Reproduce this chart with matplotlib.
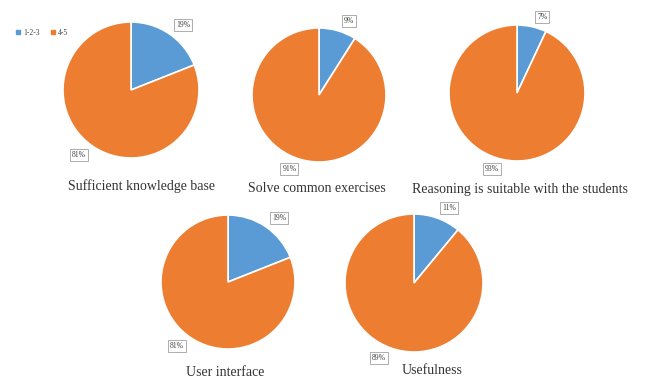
import matplotlib
matplotlib.use("Agg")
import numpy as np
import matplotlib.pyplot as plt
from matplotlib.lines import Line2D

plt.rcParams['font.family'] = ['Liberation Serif', 'DejaVu Serif']

categories = ["1-2-3", "4-5"]
titles = [
    "Sufficient knowledge base",
    "Solve common exercises",
    "Reasoning is suitable with the students",
    "User interface",
    "Usefulness",
]
low_share = [19, 9, 7, 19, 11]
high_share = [81, 91, 93, 81, 89]

colors = ["#5B9BD5", "#ED7D31"]

W, H = 648, 380
fig = plt.figure(figsize=(W / 100, H / 100), dpi=100)

# pie centres / radii / title anchor in pixels (x, y from top)
layout = [
    (131, 90, 68, 142, 186),
    (319, 95, 67, 317, 188),
    (517, 93, 68, 520, 189),
    (228, 282, 67, 225, 373),
    (414, 283, 69, 432, 370),
]

for (cx, cy, r, tx, ty), lo, hi, title in zip(layout, low_share, high_share, titles):
    ax = fig.add_axes([(cx - r) / W, 1 - (cy + r) / H, 2 * r / W, 2 * r / H])
    wedges, _ = ax.pie(
        [lo, hi], colors=colors, startangle=90, counterclock=False,
        radius=1, wedgeprops=dict(edgecolor="white", linewidth=1.2),
    )
    for w, val in zip(wedges, (lo, hi)):
        ang = np.deg2rad((w.theta1 + w.theta2) / 2)
        d = 1.15
        ax.text(d * np.cos(ang) + 0.12 * np.sign(np.cos(ang)), d * np.sin(ang), f"{val}%",
                ha="center", va="center", fontsize=5.5, color="#404040",
                bbox=dict(boxstyle="square,pad=0.25", fc="white", ec="#a0a0a0", lw=0.6))
    ax.set_xlim(-1, 1)
    ax.set_ylim(-1, 1)
    ax.set_aspect("equal")
    ax.axis("off")
    fig.text(tx / W, 1 - ty / H, title, ha="center", va="center", fontsize=10, color="#333333")

handles = [Line2D([], [], marker="s", ls="", color=c, markersize=2.5) for c in colors]
fig.legend(handles, categories, loc="center left", bbox_to_anchor=(7 / W, 1 - 33 / H),
           ncol=2, frameon=False, fontsize=5.5, handletextpad=0.2, columnspacing=1.2,
           handlelength=1.0, labelcolor="#404040")

fig.savefig("out.png", dpi=100, facecolor="white")
